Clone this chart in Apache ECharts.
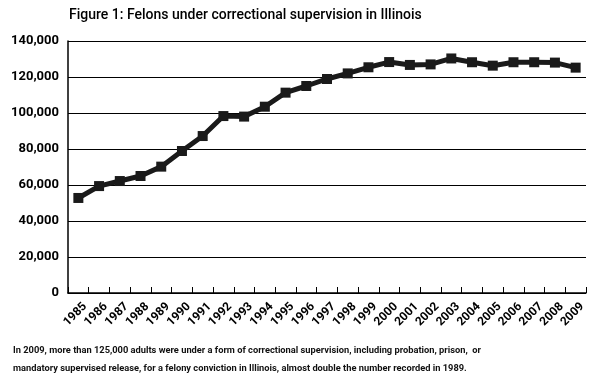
<!DOCTYPE html>
<html><head><meta charset="utf-8">
<script src="https://cdn.jsdelivr.net/npm/echarts@6/dist/echarts.min.js"></script>
<style>html,body{margin:0;padding:0;background:#fff}#c{width:603px;height:388px}</style>
</head><body><div id="c"></div>
<script>
const titleText = 'Figure 1: Felons under correctional supervision in Illinois';
const footnoteLines = [
  'In 2009, more than 125,000 adults were under a form of correctional supervision, including probation, prison,  or',
  'mandatory supervised release, for a felony conviction in Illinois, almost double the number recorded in 1989.'
];
const years = ['1985','1986','1987','1988','1989','1990','1991','1992','1993','1994','1995','1996','1997','1998','1999','2000','2001','2002','2003','2004','2005','2006','2007','2008','2009'];
const felons = [52800,59400,62200,65000,70200,78900,87200,98300,98000,103500,111300,115000,118900,122000,125400,128300,126700,127000,130300,128200,126300,128200,128200,128000,125200];

const chart = echarts.init(document.getElementById('c'));
chart.setOption({
  animation: false,
  title: {
    text: titleText, left: 64, top: 3,
    textStyle: {fontFamily: 'Roboto', fontSize: 14, fontWeight: 500, color: '#000'}
  },
  graphic: footnoteLines.map((t, i) => ({
    type: 'text', left: 13, top: 346 + i * 18,
    style: {text: t, font: 'bold 9.3px Roboto', fill: '#111'}
  })),
  grid: {left: 68, right: 17, top: 41, bottom: 95, containLabel: false},
  xAxis: {
    type: 'category', data: years, boundaryGap: true,
    axisLine: {lineStyle: {color: '#000', width: 1.5}},
    axisTick: {show: true, inside: true, length: 6, lineStyle: {color: '#000'}},
    axisLabel: {rotate: 45, color: '#000', interval: 0, margin: 5,
      formatter: v => '{y|' + v + '}',
      rich: {y: {fontSize: 12, fontWeight: 'bold', fontFamily: 'Roboto', color: '#000', padding: [19, 0, 0, 0]}}}
  },
  yAxis: {
    type: 'value', min: 0, max: 140000, interval: 20000,
    axisLine: {show: true, lineStyle: {color: '#000', width: 1.5}},
    axisTick: {show: false},
    splitLine: {lineStyle: {color: '#000', width: 1}},
    axisLabel: {fontSize: 13, fontWeight: 'bold', fontFamily: 'Roboto', color: '#000', margin: 9,
      formatter: v => v.toLocaleString('en-US')}
  },
  series: [{
    type: 'line', data: felons,
    lineStyle: {color: '#1a1a1a', width: 5},
    itemStyle: {color: '#1a1a1a'},
    symbol: 'rect', symbolSize: 10, showAllSymbol: true
  }]
});
</script></body></html>
